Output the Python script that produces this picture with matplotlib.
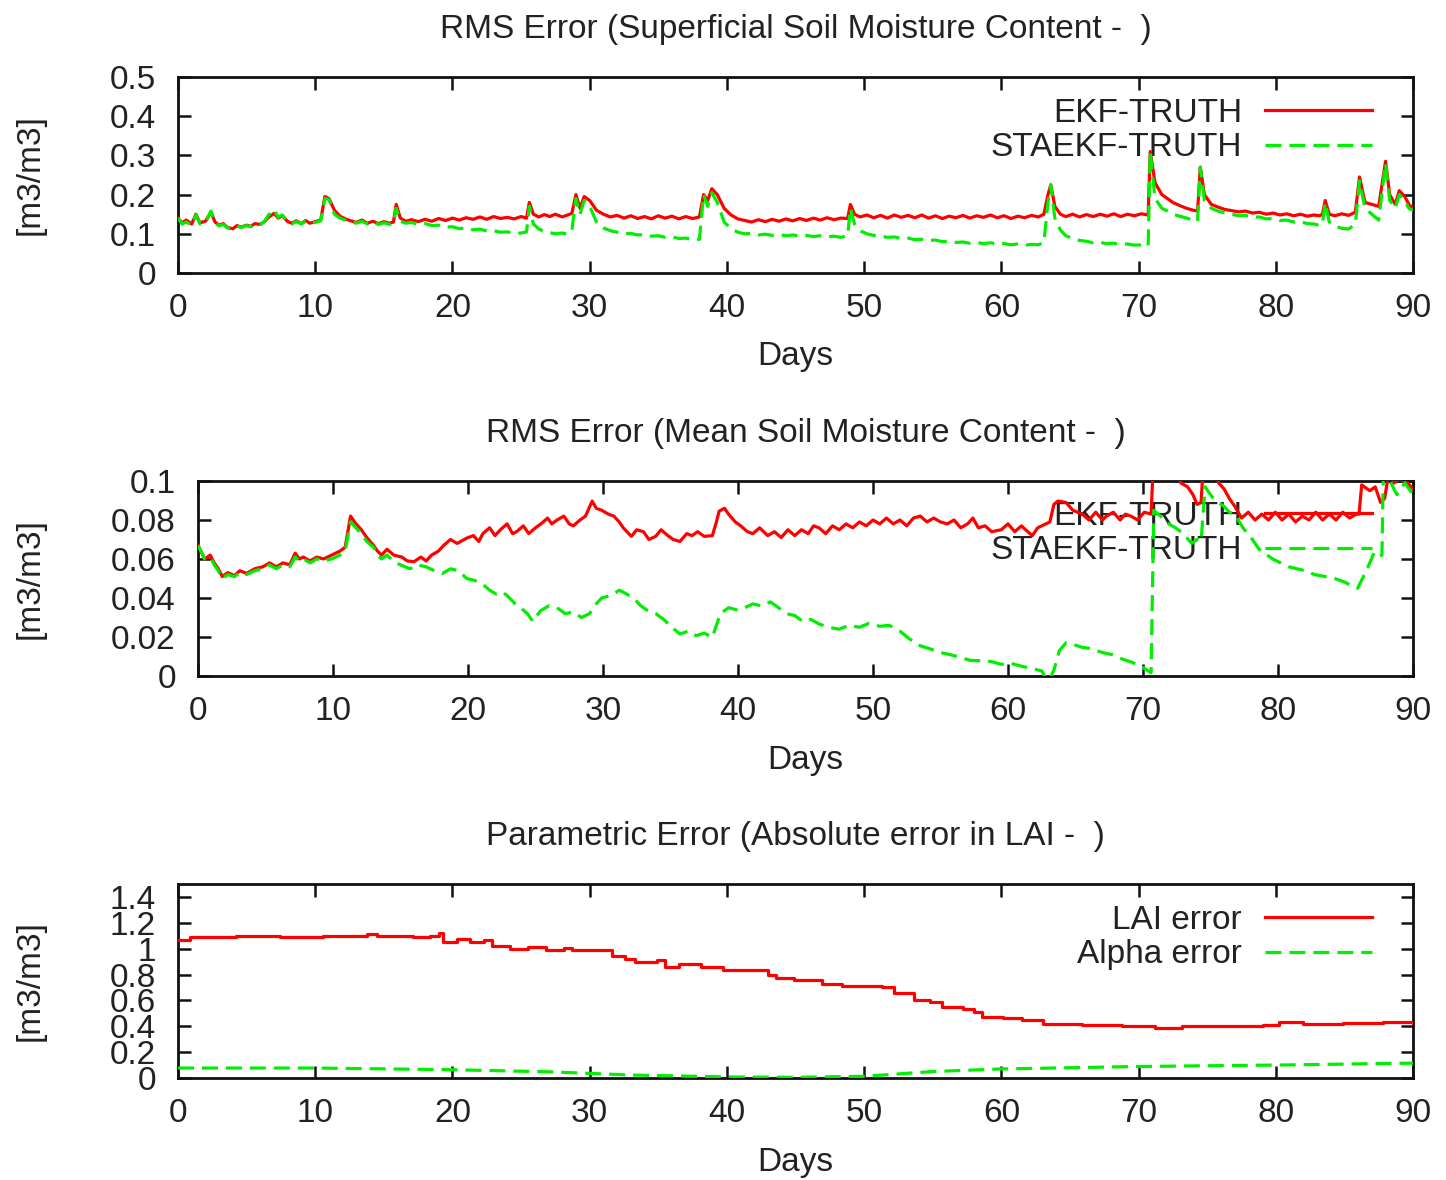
import matplotlib.pyplot as plt
from matplotlib.ticker import FormatStrFormatter

plt.rcParams['font.family'] = ['Liberation Sans', 'DejaVu Sans']

# (day, value) pairs

# panel 1 : superficial soil moisture
sup_ekf = [(0, 0.140), (0.3, 0.128), (0.6, 0.135), (1.0, 0.125), (1.3, 0.150), (1.6, 0.128), (2.0, 0.132),
           (2.4, 0.155), (2.7, 0.130), (3.0, 0.122), (3.3, 0.126), (3.6, 0.116), (4.0, 0.113), (4.3, 0.121),
           (4.6, 0.117), (5.0, 0.122), (5.3, 0.119), (5.6, 0.126), (6.0, 0.124), (6.3, 0.131), (6.6, 0.142),
           (7.0, 0.152), (7.3, 0.140), (7.6, 0.146), (8.0, 0.131), (8.3, 0.127), (8.6, 0.133), (9.0, 0.126),
           (9.3, 0.134), (9.6, 0.127), (10.0, 0.131), (10.4, 0.135), (10.7, 0.195), (11.0, 0.190), (11.4, 0.160),
           (11.8, 0.145), (12.2, 0.138), (12.6, 0.133), (13.0, 0.129), (13.4, 0.135), (13.8, 0.127), (14.2, 0.132),
           (14.6, 0.126), (15.0, 0.131), (15.4, 0.127), (15.7, 0.130), (15.9, 0.175), (16.2, 0.140), (16.6, 0.132),
           (17.0, 0.136), (17.5, 0.131), (18.0, 0.137), (18.5, 0.132), (19.0, 0.139), (19.5, 0.134), (20.0, 0.140),
           (20.5, 0.135), (21.0, 0.141), (21.5, 0.137), (22.0, 0.143), (22.5, 0.137), (23.0, 0.144), (23.5, 0.139),
           (24.0, 0.142), (24.5, 0.138), (25.0, 0.144), (25.4, 0.140), (25.6, 0.180), (25.9, 0.150), (26.3, 0.143),
           (26.7, 0.149), (27.1, 0.144), (27.5, 0.150), (28.0, 0.143), (28.4, 0.148), (28.7, 0.152), (29.0, 0.200),
           (29.3, 0.165), (29.6, 0.195), (30.0, 0.185), (30.5, 0.160), (31.0, 0.150), (31.5, 0.143), (32.0, 0.147),
           (32.5, 0.140), (33.0, 0.146), (33.5, 0.139), (34.0, 0.144), (34.5, 0.138), (35.0, 0.146), (35.5, 0.140),
           (36.0, 0.145), (36.5, 0.138), (37.0, 0.144), (37.5, 0.139), (38.0, 0.143), (38.3, 0.200), (38.6, 0.185),
           (38.9, 0.215), (39.3, 0.200), (39.8, 0.165), (40.3, 0.148), (40.8, 0.138), (41.3, 0.134), (41.8, 0.130),
           (42.3, 0.136), (42.8, 0.131), (43.3, 0.137), (43.8, 0.132), (44.3, 0.138), (44.8, 0.133), (45.3, 0.139),
           (45.8, 0.134), (46.3, 0.140), (46.8, 0.135), (47.3, 0.141), (47.8, 0.136), (48.3, 0.140), (48.8, 0.139),
           (49.0, 0.175), (49.3, 0.150), (49.7, 0.143), (50.2, 0.148), (50.7, 0.141), (51.2, 0.147), (51.7, 0.140),
           (52.2, 0.148), (52.7, 0.142), (53.2, 0.147), (53.7, 0.141), (54.2, 0.148), (54.7, 0.140), (55.2, 0.146),
           (55.7, 0.139), (56.2, 0.145), (56.7, 0.141), (57.2, 0.147), (57.7, 0.140), (58.2, 0.146), (58.7, 0.142),
           (59.2, 0.148), (59.7, 0.141), (60.2, 0.146), (60.7, 0.139), (61.2, 0.145), (61.7, 0.141), (62.2, 0.147),
           (62.7, 0.143), (63.1, 0.150), (63.4, 0.200), (63.6, 0.225), (63.9, 0.170), (64.3, 0.150), (64.7, 0.144),
           (65.2, 0.150), (65.7, 0.143), (66.2, 0.149), (66.7, 0.144), (67.2, 0.150), (67.7, 0.145), (68.2, 0.151),
           (68.7, 0.144), (69.2, 0.150), (69.7, 0.146), (70.2, 0.151), (70.7, 0.148), (70.85, 0.310), (71.2, 0.230),
           (71.7, 0.200), (72.1, 0.190), (72.5, 0.180), (73.0, 0.172), (73.5, 0.165), (74.0, 0.160), (74.3, 0.158),
           (74.5, 0.270), (74.8, 0.200), (75.3, 0.175), (75.8, 0.168), (76.3, 0.162), (76.8, 0.159), (77.3, 0.156),
           (77.8, 0.158), (78.3, 0.153), (78.8, 0.155), (79.3, 0.150), (79.8, 0.153), (80.3, 0.148), (80.8, 0.151),
           (81.3, 0.146), (81.8, 0.150), (82.3, 0.145), (82.8, 0.148), (83.2, 0.146), (83.4, 0.150), (83.6, 0.185),
           (83.9, 0.150), (84.3, 0.146), (84.8, 0.151), (85.3, 0.147), (85.8, 0.155), (86.1, 0.245), (86.5, 0.180),
           (87.0, 0.175), (87.5, 0.170), (88.0, 0.285), (88.3, 0.200), (88.7, 0.175), (89.0, 0.210), (89.4, 0.195),
           (89.7, 0.175), (90, 0.165)]
sup_sta = [(0, 0.140), (0.3, 0.125), (0.6, 0.130), (1.0, 0.122), (1.3, 0.148), (1.6, 0.125), (2.0, 0.128),
           (2.4, 0.158), (2.7, 0.128), (3.0, 0.120), (3.3, 0.124), (3.6, 0.115), (4.0, 0.113), (4.3, 0.120),
           (4.6, 0.116), (5.0, 0.121), (5.3, 0.118), (5.6, 0.125), (6.0, 0.124), (6.3, 0.132), (6.6, 0.148),
           (7.0, 0.162), (7.3, 0.142), (7.6, 0.148), (8.0, 0.130), (8.3, 0.125), (8.6, 0.131), (9.0, 0.125),
           (9.3, 0.132), (9.6, 0.126), (10.0, 0.129), (10.4, 0.133), (10.7, 0.190), (11.0, 0.188), (11.4, 0.150),
           (11.8, 0.140), (12.2, 0.135), (12.6, 0.131), (13.0, 0.127), (13.4, 0.132), (13.8, 0.125), (14.2, 0.130),
           (14.6, 0.124), (15.0, 0.128), (15.4, 0.124), (15.7, 0.127), (15.9, 0.165), (16.2, 0.132), (16.6, 0.127),
           (17.0, 0.129), (17.5, 0.124), (18.0, 0.126), (18.5, 0.121), (19.0, 0.122), (19.5, 0.117), (20.0, 0.118),
           (20.5, 0.113), (21.0, 0.115), (21.5, 0.110), (22.0, 0.112), (22.5, 0.107), (23.0, 0.108), (23.5, 0.104),
           (24.0, 0.105), (24.5, 0.101), (25.0, 0.102), (25.4, 0.105), (25.6, 0.170), (25.9, 0.125), (26.3, 0.112),
           (26.7, 0.106), (27.1, 0.103), (27.5, 0.100), (28.0, 0.102), (28.4, 0.099), (28.7, 0.108), (29.0, 0.190),
           (29.3, 0.150), (29.6, 0.185), (30.0, 0.170), (30.5, 0.130), (31.0, 0.115), (31.5, 0.108), (32.0, 0.104),
           (32.5, 0.100), (33.0, 0.101), (33.5, 0.097), (34.0, 0.098), (34.5, 0.094), (35.0, 0.095), (35.5, 0.091),
           (36.0, 0.092), (36.5, 0.088), (37.0, 0.089), (37.5, 0.085), (38.0, 0.086), (38.3, 0.200), (38.6, 0.170),
           (38.9, 0.205), (39.3, 0.180), (39.8, 0.130), (40.3, 0.113), (40.8, 0.104), (41.3, 0.100), (41.8, 0.101),
           (42.3, 0.097), (42.8, 0.099), (43.3, 0.096), (43.8, 0.098), (44.3, 0.095), (44.8, 0.097), (45.3, 0.094),
           (45.8, 0.096), (46.3, 0.093), (46.8, 0.095), (47.3, 0.092), (47.8, 0.094), (48.3, 0.091), (48.8, 0.095),
           (49.0, 0.165), (49.3, 0.125), (49.7, 0.108), (50.2, 0.100), (50.7, 0.096), (51.2, 0.094), (51.7, 0.091),
           (52.2, 0.092), (52.7, 0.088), (53.2, 0.089), (53.7, 0.085), (54.2, 0.086), (54.7, 0.083), (55.2, 0.084),
           (55.7, 0.080), (56.2, 0.081), (56.7, 0.078), (57.2, 0.079), (57.7, 0.076), (58.2, 0.078), (58.7, 0.075),
           (59.2, 0.077), (59.7, 0.074), (60.2, 0.075), (60.7, 0.072), (61.2, 0.074), (61.7, 0.071), (62.2, 0.073),
           (62.7, 0.072), (63.1, 0.078), (63.4, 0.180), (63.6, 0.225), (63.9, 0.140), (64.3, 0.110), (64.7, 0.095),
           (65.2, 0.088), (65.7, 0.083), (66.2, 0.081), (66.7, 0.077), (67.2, 0.078), (67.7, 0.075), (68.2, 0.076),
           (68.7, 0.073), (69.2, 0.074), (69.7, 0.071), (70.2, 0.072), (70.7, 0.069), (70.85, 0.310), (71.2, 0.190),
           (71.7, 0.165), (72.1, 0.158), (72.5, 0.150), (73.0, 0.145), (73.5, 0.140), (74.0, 0.135), (74.3, 0.132),
           (74.5, 0.270), (74.8, 0.185), (75.3, 0.165), (75.8, 0.158), (76.3, 0.153), (76.8, 0.150), (77.3, 0.146),
           (77.8, 0.147), (78.3, 0.142), (78.8, 0.143), (79.3, 0.138), (79.8, 0.139), (80.3, 0.134), (80.8, 0.135),
           (81.3, 0.130), (81.8, 0.131), (82.3, 0.126), (82.8, 0.125), (83.2, 0.121), (83.4, 0.125), (83.6, 0.180),
           (83.9, 0.130), (84.3, 0.120), (84.8, 0.114), (85.3, 0.112), (85.8, 0.125), (86.1, 0.235), (86.5, 0.165),
           (87.0, 0.150), (87.5, 0.135), (88.0, 0.280), (88.3, 0.185), (88.7, 0.165), (89.0, 0.200), (89.4, 0.185),
           (89.7, 0.165), (90, 0.160)]

# panel 2 : mean soil moisture
mean_ekf = [(0, 0.067), (0.5, 0.060), (0.9, 0.062), (1.2, 0.058), (1.5, 0.055), (1.8, 0.051), (2.2, 0.053),
            (2.7, 0.0515), (3.1, 0.054), (3.6, 0.0526), (4.2, 0.055), (4.8, 0.056), (5.3, 0.058), (5.8, 0.056),
            (6.3, 0.058), (6.8, 0.057), (7.2, 0.063), (7.5, 0.060), (7.8, 0.061), (8.3, 0.059), (8.8, 0.061),
            (9.3, 0.060), (9.9, 0.062), (10.5, 0.064), (10.9, 0.066), (11.3, 0.082), (11.7, 0.078), (12.1, 0.075),
            (12.5, 0.071), (13.0, 0.067), (13.3, 0.064), (13.6, 0.062), (14.0, 0.065), (14.5, 0.062), (15.1, 0.061),
            (15.5, 0.059), (16.0, 0.0586), (16.5, 0.061), (16.9, 0.059), (17.3, 0.062), (17.8, 0.064), (18.2, 0.067),
            (18.7, 0.070), (19.2, 0.068), (19.9, 0.0707), (20.4, 0.072), (20.8, 0.069), (21.1, 0.073), (21.6, 0.076),
            (22.0, 0.072), (22.4, 0.075), (22.9, 0.078), (23.3, 0.073), (23.6, 0.074), (24.1, 0.077), (24.5, 0.073),
            (25.0, 0.076), (25.4, 0.078), (25.9, 0.081), (26.2, 0.078), (26.6, 0.080), (27.1, 0.082), (27.5, 0.078),
            (27.8, 0.077), (28.3, 0.080), (28.7, 0.082), (29.2, 0.0897), (29.5, 0.086), (29.9, 0.085), (30.4, 0.083),
            (30.8, 0.082), (31.2, 0.079), (31.5, 0.076), (32.1, 0.0716), (32.5, 0.075), (33.0, 0.074), (33.4, 0.070),
            (33.9, 0.0716), (34.3, 0.075), (34.8, 0.072), (35.2, 0.070), (35.7, 0.069), (36.2, 0.073), (36.6, 0.072),
            (37.0, 0.074), (37.5, 0.0716), (38.1, 0.072), (38.4, 0.079), (38.6, 0.0845), (39.0, 0.086), (39.3, 0.083),
            (39.8, 0.079), (40.2, 0.077), (40.7, 0.074), (41.1, 0.073), (41.6, 0.076), (42.2, 0.072), (42.7, 0.074),
            (43.2, 0.071), (43.7, 0.075), (44.2, 0.072), (44.7, 0.075), (45.2, 0.073), (45.6, 0.077), (46.0, 0.076),
            (46.5, 0.073), (47.0, 0.077), (47.5, 0.075), (48.0, 0.078), (48.5, 0.076), (49.0, 0.079), (49.5, 0.077),
            (50.0, 0.080), (50.5, 0.078), (51.0, 0.081), (51.5, 0.078), (52.0, 0.080), (52.5, 0.077), (53.0, 0.081),
            (53.5, 0.082), (54.0, 0.079), (54.5, 0.081), (55.0, 0.079), (55.5, 0.078), (56.0, 0.080), (56.5, 0.076),
            (57.0, 0.078), (57.4, 0.081), (57.8, 0.076), (58.3, 0.077), (58.8, 0.074), (59.5, 0.075), (60.0, 0.078),
            (60.5, 0.074), (61.0, 0.077), (61.3, 0.075), (61.8, 0.072), (62.2, 0.076), (62.5, 0.077), (63.1, 0.079),
            (63.4, 0.088), (63.7, 0.0897), (64.3, 0.089), (64.8, 0.085), (65.5, 0.083), (66.0, 0.080), (66.5, 0.084),
            (67.0, 0.080), (67.3, 0.082), (67.8, 0.084), (68.3, 0.080), (68.7, 0.083), (69.1, 0.082), (69.6, 0.080),
            (70.1, 0.084), (70.6, 0.083), (70.8, 0.115), (72.5, 0.105), (72.8, 0.099), (73.3, 0.097), (73.7, 0.093),
            (74.0, 0.088), (74.3, 0.089), (74.5, 0.112), (75.0, 0.110), (75.6, 0.099), (76.0, 0.096), (76.4, 0.091),
            (76.8, 0.087), (77.3, 0.081), (77.8, 0.084), (78.3, 0.080), (78.8, 0.083), (79.3, 0.080), (79.8, 0.084),
            (80.3, 0.080), (80.8, 0.083), (81.3, 0.079), (81.8, 0.082), (82.3, 0.080), (82.8, 0.084), (83.3, 0.080),
            (83.8, 0.083), (84.3, 0.080), (84.8, 0.084), (85.3, 0.081), (85.8, 0.083), (86.0, 0.083), (86.2, 0.098),
            (86.8, 0.095), (87.2, 0.097), (87.6, 0.089), (87.9, 0.091), (88.2, 0.104), (88.6, 0.099), (89.0, 0.101),
            (89.6, 0.099), (90, 0.096)]
mean_sta = [(0, 0.067), (0.5, 0.060), (0.9, 0.061), (1.2, 0.057), (1.5, 0.054), (1.8, 0.050), (2.2, 0.052),
            (2.7, 0.051), (3.1, 0.053), (3.6, 0.052), (4.2, 0.054), (4.8, 0.055), (5.3, 0.057), (5.8, 0.055),
            (6.3, 0.057), (6.8, 0.056), (7.2, 0.061), (7.5, 0.059), (7.8, 0.060), (8.3, 0.058), (8.8, 0.060),
            (9.3, 0.059), (9.9, 0.060), (10.5, 0.062), (10.9, 0.064), (11.3, 0.079), (11.7, 0.076), (12.1, 0.073),
            (12.5, 0.069), (13.0, 0.066), (13.3, 0.062), (13.6, 0.060), (14.0, 0.062), (14.5, 0.0586), (15.0, 0.057),
            (15.7, 0.055), (16.2, 0.057), (16.9, 0.056), (17.5, 0.054), (18.1, 0.0526), (18.7, 0.055), (19.3, 0.054),
            (19.9, 0.050), (20.5, 0.049), (21.1, 0.047), (21.6, 0.044), (22.1, 0.042), (22.6, 0.043), (23.0, 0.0405),
            (23.5, 0.037), (23.9, 0.035), (24.4, 0.032), (24.8, 0.028), (25.1, 0.031), (25.4, 0.0336), (26.0, 0.036),
            (26.6, 0.035), (27.2, 0.032), (27.8, 0.0328), (28.4, 0.030), (29.0, 0.032), (29.5, 0.037), (29.9, 0.040),
            (30.4, 0.041), (30.8, 0.042), (31.2, 0.044), (31.5, 0.043), (32.0, 0.041), (32.4, 0.039), (32.8, 0.036),
            (33.3, 0.0336), (33.9, 0.032), (34.5, 0.029), (35.1, 0.025), (35.7, 0.0215), (36.3, 0.023), (36.9, 0.0207),
            (37.5, 0.022), (38.1, 0.0198), (38.4, 0.026), (38.7, 0.032), (39.3, 0.035), (39.9, 0.034), (40.5, 0.035),
            (41.1, 0.037), (41.7, 0.036), (42.4, 0.038), (43.0, 0.035), (43.6, 0.032), (44.2, 0.031), (44.8, 0.028),
            (45.4, 0.029), (46.0, 0.0267), (46.7, 0.025), (47.5, 0.024), (48.2, 0.026), (49.0, 0.025), (49.7, 0.027),
            (50.5, 0.0255), (51.2, 0.026), (52.0, 0.023), (52.7, 0.019), (53.5, 0.0155), (54.2, 0.014), (55.0, 0.012),
            (55.7, 0.011), (56.5, 0.0095), (57.2, 0.008), (58.0, 0.0078), (58.7, 0.0075), (59.5, 0.006), (60.2, 0.0065),
            (61.0, 0.005), (61.7, 0.004), (62.5, 0.0026), (63.0, -0.003), (63.4, 0.003), (63.8, 0.013), (64.3, 0.017),
            (64.9, 0.016), (65.5, 0.0147), (66.2, 0.014), (67.0, 0.012), (67.7, 0.011), (68.5, 0.0086), (69.2, 0.007),
            (70.0, 0.0043), (70.6, 0.0017), (70.8, 0.085), (71.3, 0.082), (71.9, 0.078), (72.4, 0.076), (73.0, 0.073),
            (73.6, 0.068), (74.0, 0.070), (74.3, 0.069), (74.6, 0.097), (75.1, 0.092), (75.6, 0.089), (76.0, 0.087),
            (76.4, 0.084), (76.8, 0.083), (77.4, 0.076), (78.0, 0.071), (78.6, 0.065), (79.2, 0.062), (79.6, 0.060),
            (80.2, 0.058), (80.8, 0.056), (81.4, 0.055), (82.0, 0.054), (82.7, 0.052), (83.5, 0.051), (84.2, 0.050),
            (85.0, 0.048), (85.5, 0.046), (85.9, 0.045), (86.4, 0.052), (86.8, 0.058), (87.1, 0.063), (87.4, 0.061),
            (87.7, 0.062), (87.8, 0.104), (88.3, 0.100), (88.8, 0.093), (89.4, 0.099), (90, 0.093)]

# panel 3 : LAI and alpha parameter errors
lai_err = [(0, 1.07), (0.9, 1.09), (4.2, 1.10), (7.4, 1.09), (10.6, 1.095), (13.2, 1.095), (13.8, 1.115),
           (14.5, 1.095), (17.1, 1.09), (18.4, 1.10), (19.0, 1.12), (19.3, 1.05), (20.3, 1.075), (21.3, 1.05),
           (22.3, 1.064), (22.9, 1.018), (24.2, 1.0), (25.5, 1.012), (26.8, 0.99), (28.1, 1.005), (28.7, 0.987),
           (31.0, 0.987), (31.6, 0.94), (32.6, 0.923), (33.3, 0.9), (34.9, 0.913), (35.5, 0.86), (36.5, 0.885),
           (38.1, 0.86), (39.7, 0.834), (41.3, 0.834), (43.0, 0.796), (43.6, 0.77), (44.9, 0.758), (46.9, 0.725),
           (48.4, 0.712), (51.3, 0.70), (52.2, 0.66), (53.6, 0.60), (54.8, 0.585), (55.7, 0.547), (57.2, 0.534),
           (58.0, 0.509), (58.6, 0.47), (60.1, 0.466), (61.5, 0.445), (63.0, 0.42), (65.9, 0.412), (68.8, 0.402),
           (71.2, 0.387), (73.2, 0.40), (76.1, 0.40), (79.1, 0.412), (80.2, 0.43), (82.0, 0.415), (84.9, 0.427),
           (87.8, 0.432), (90, 0.428)]
alpha_err = [(0, 0.077), (10, 0.077), (20, 0.064), (27, 0.048), (33, 0.023), (40, 0.008), (45, 0.005),
             (50, 0.013), (55, 0.05), (60, 0.07), (70, 0.089), (80, 0.10), (90, 0.115)]

TXT = '#222222'
FS = 24
W, H = 1446, 1180

fig = plt.figure(figsize=(W / 100, H / 100), dpi=100)


def panel(left, top, right, bottom):
    return fig.add_axes([left / W, 1 - bottom / H, (right - left) / W, (bottom - top) / H])


def style(ax, ylim, yticks, title, labels, legend_top):
    ax.set_xlim(0, 90)
    ax.set_ylim(*ylim)
    ax.set_xticks(range(0, 91, 10))
    ax.set_yticks(yticks)
    ax.yaxis.set_major_formatter(FormatStrFormatter('%g'))
    ax.tick_params(direction='in', length=9, width=1.8, top=True, right=True,
                   labelsize=FS, labelcolor=TXT, color='#111111')
    ax.tick_params(axis='y', pad=16)
    ax.tick_params(axis='x', pad=14.5)
    for s in ax.spines.values():
        s.set_linewidth(2.0)
        s.set_color('#111111')
    ax.set_xlabel('Days', fontsize=FS, color=TXT, labelpad=12.5)
    ax.annotate(title, xy=(0.5, 1), xycoords='axes fraction', xytext=(0, 34),
                textcoords='offset points', ha='center', va='center', fontsize=FS, color=TXT)
    pos = ax.get_position()
    fig.text(30 / W, pos.y0 + pos.height / 2, '[m3/m3]', rotation=90, ha='center', va='center',
             fontsize=FS, color=TXT)
    # gnuplot style key: right aligned text, sample on the right, drawn under the curves
    leg = ax.legend(labels, loc='upper right', bbox_to_anchor=(1372 / W, 1 - legend_top / H),
                    bbox_transform=fig.transFigure, frameon=False, markerfirst=False, fontsize=FS,
                    handlelength=3.2, handletextpad=0.7, labelspacing=0.1, borderpad=0, borderaxespad=0)
    for t in leg.get_texts():
        t.set_color(TXT)
    leg.set_zorder(1)


def xy(pairs):
    return [p[0] for p in pairs], [p[1] for p in pairs]


red = dict(color='#ff0000', lw=2.3, zorder=3)
green = dict(color='#00ee00', lw=2.3, ls=(0, (5, 2.5)), zorder=3)

ax1 = panel(178, 77, 1413, 273)
ax1.plot(*xy(sup_ekf), **red)
ax1.plot(*xy(sup_sta), **green)
style(ax1, (0, 0.5), [0, 0.1, 0.2, 0.3, 0.4, 0.5],
      'RMS Error (Superficial Soil Moisture Content -  )', ['EKF-TRUTH', 'STAEKF-TRUTH'], 98)

ax2 = panel(198, 481, 1413, 676)
ax2.plot(*xy(mean_ekf), **red)
ax2.plot(*xy(mean_sta), **green)
style(ax2, (0, 0.1), [0, 0.02, 0.04, 0.06, 0.08, 0.1],
      'RMS Error (Mean Soil Moisture Content -  )', ['EKF-TRUTH', 'STAEKF-TRUTH'], 501)

ax3 = panel(178, 884, 1413, 1078)
ax3.plot(*xy(lai_err), drawstyle='steps-post', **red)
ax3.plot(*xy(alpha_err), **green)
style(ax3, (0, 1.5), [0, 0.2, 0.4, 0.6, 0.8, 1.0, 1.2, 1.4],
      'Parametric Error (Absolute error in LAI -  )', ['LAI error', 'Alpha error'], 905)

fig.savefig('out.png', dpi=100)
